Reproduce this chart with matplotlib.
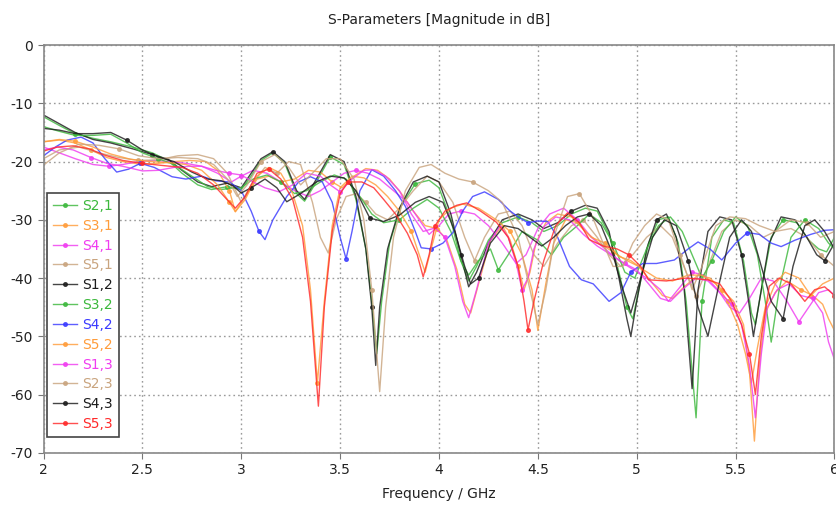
import matplotlib
matplotlib.use("Agg")
import matplotlib.pyplot as plt

plt.rcParams["axes.unicode_minus"] = False
plt.rcParams["font.family"] = ["DejaVu Sans"]

# --------------------
# Data: (frequency GHz, magnitude dB)
# --------------------
s21 = [(2.00,-12.3),(2.08,-13.8),(2.16,-15.2),(2.25,-16),(2.34,-16.6),(2.45,-17.5),(2.55,-18.5),(2.63,-19.8),
       (2.70,-22),(2.78,-24),(2.85,-24.8),(2.93,-24.3),(3.00,-24.8),(3.05,-22.5),(3.10,-19.8),(3.16,-18.5),
       (3.22,-20.3),(3.28,-25.5),(3.32,-26.8),(3.38,-23.5),(3.45,-19.2),(3.52,-20.5),(3.58,-26.5),(3.63,-35),
       (3.66,-44),(3.685,-53),(3.71,-44),(3.75,-34),(3.81,-27.5),(3.88,-23.8),(3.95,-23.2),(4.00,-24.5),
       (4.06,-30),(4.11,-37),(4.15,-40.5),(4.19,-38),(4.25,-33.5),(4.32,-30.5),(4.40,-29.5),(4.47,-30.5),
       (4.53,-32),(4.60,-31),(4.67,-29),(4.74,-28),(4.80,-28.5),(4.86,-32.5),(4.91,-39),(4.95,-45),
       (4.98,-47),(5.01,-42),(5.06,-34),(5.11,-30),(5.16,-29.5),(5.21,-34),(5.25,-44),(5.30,-64),
       (5.33,-44),(5.38,-33),(5.44,-30),(5.49,-30.5),(5.54,-37),(5.58,-46),(5.60,-48),(5.63,-42),
       (5.68,-33),(5.74,-30),(5.81,-30.5),(5.87,-33.5),(5.92,-35),(5.96,-35.5),(6.00,-33)]

s31 = [(2.00,-16.6),(2.08,-16.3),(2.16,-16.8),(2.24,-18),(2.32,-19.3),(2.40,-20),(2.50,-20.5),(2.58,-20.3),
       (2.66,-20),(2.74,-19.8),(2.82,-20),(2.88,-21.5),(2.94,-25),(2.97,-28.6),(3.02,-26),(3.08,-23),
       (3.14,-22.5),(3.20,-23.5),(3.27,-23),(3.34,-21.5),(3.40,-21.8),(3.46,-23.5),(3.51,-24.5),(3.57,-22.5),
       (3.63,-21.2),(3.69,-21.5),(3.75,-23),(3.81,-25.5),(3.87,-28.5),(3.93,-31),(3.99,-31.5),(4.04,-33.5),
       (4.09,-38.5),(4.13,-44.5),(4.16,-46),(4.20,-41),(4.26,-33.5),(4.32,-31),(4.36,-33.5),(4.40,-38),
       (4.43,-42),(4.46,-39),(4.49,-34),(4.54,-30.5),(4.60,-29),(4.67,-29.5),(4.74,-32),(4.81,-34),
       (4.88,-35.5),(4.95,-37),(5.01,-38),(5.07,-40.5),(5.13,-43),(5.18,-43.5),(5.24,-41.5),(5.31,-39.5),
       (5.37,-40),(5.43,-42),(5.49,-44),(5.54,-48),(5.57,-56),(5.595,-68),(5.62,-55),(5.65,-46),
       (5.70,-42.5),(5.76,-40.5),(5.83,-42),(5.89,-43),(5.94,-44.5),(5.97,-47),(6.00,-49)]

s41 = [(2.00,-17.5),(2.08,-18.5),(2.16,-19.5),(2.25,-20.5),(2.33,-20.8),(2.40,-20.5),(2.48,-20),(2.56,-19.8),
       (2.64,-20),(2.72,-20.3),(2.80,-20.8),(2.88,-22),(2.95,-23.5),(3.00,-22.5),(3.06,-21.5),(3.13,-22),
       (3.20,-23.5),(3.27,-25),(3.34,-26),(3.40,-25),(3.46,-23.5),(3.52,-22),(3.58,-21.5),(3.64,-22),
       (3.70,-23),(3.77,-25),(3.84,-27),(3.90,-30),(3.95,-32.5),(4.00,-31),(4.05,-29),(4.11,-28.5),
       (4.18,-29),(4.25,-31),(4.32,-34),(4.39,-37.5),(4.44,-36),(4.50,-31.5),(4.56,-29),(4.63,-28),
       (4.70,-30),(4.77,-33),(4.84,-35),(4.91,-37),(4.98,-38.5),(5.05,-40),(5.12,-42),(5.16,-44),
       (5.22,-41.5),(5.28,-39),(5.34,-39.5),(5.41,-42),(5.47,-45),(5.52,-46),(5.57,-43.5),(5.63,-40),
       (5.69,-40.5),(5.76,-44),(5.82,-47.5),(5.87,-45),(5.92,-42.5),(5.97,-42),(6.00,-43)]

s51 = [(2.00,-19.5),(2.08,-18),(2.18,-17.5),(2.28,-18.5),(2.38,-19.3),(2.48,-19.8),(2.58,-19.7),(2.68,-19),
       (2.78,-18.8),(2.86,-19.5),(2.93,-22),(3.00,-27),(3.05,-24),(3.12,-21),(3.18,-22),(3.24,-20),
       (3.30,-20.5),(3.36,-27),(3.40,-33),(3.44,-35.7),(3.48,-30),(3.53,-26),(3.58,-25.5),(3.63,-27),
       (3.68,-29),(3.74,-30),(3.80,-28),(3.87,-25),(3.94,-22.5),(4.00,-23.5),(4.07,-27),(4.13,-33),
       (4.18,-37),(4.23,-33),(4.30,-29),(4.36,-28.5),(4.42,-31),(4.48,-36),(4.53,-38),(4.60,-34),
       (4.67,-31),(4.73,-30),(4.80,-33),(4.86,-36),(4.92,-38),(4.98,-36),(5.05,-33),(5.12,-31),
       (5.18,-33),(5.25,-39),(5.30,-43),(5.36,-38),(5.43,-32),(5.50,-30),(5.57,-31),(5.64,-33),
       (5.70,-32),(5.78,-31.5),(5.86,-33),(5.93,-36),(6.00,-38)]

s12 = [(2.00,-12),(2.08,-13.5),(2.16,-15),(2.25,-16.2),(2.34,-16.8),(2.45,-17.8),(2.55,-18.8),(2.63,-19.6),
       (2.70,-21.5),(2.78,-23.5),(2.85,-24.3),(2.93,-23.7),(3.00,-24.5),(3.05,-22),(3.10,-19.5),(3.16,-18.3),
       (3.22,-20),(3.28,-25),(3.32,-26.5),(3.38,-23),(3.45,-18.8),(3.52,-20),(3.58,-26),(3.63,-35),
       (3.66,-45),(3.68,-55),(3.70,-45),(3.74,-35),(3.80,-28),(3.87,-23.5),(3.94,-22.5),(4.00,-23.5),
       (4.06,-29),(4.11,-36),(4.15,-41.5),(4.19,-39),(4.25,-34),(4.32,-30),(4.40,-29),(4.47,-30),
       (4.53,-31.5),(4.60,-30.5),(4.67,-28.5),(4.74,-27.5),(4.80,-28),(4.86,-32),(4.91,-40),(4.95,-47),
       (4.97,-50),(5.00,-44),(5.05,-35),(5.10,-30),(5.15,-29),(5.20,-33),(5.24,-42),(5.28,-59),
       (5.31,-42),(5.36,-32),(5.42,-29.5),(5.48,-30),(5.53,-36),(5.57,-45),(5.59,-50),(5.62,-44),
       (5.67,-34),(5.73,-29.5),(5.80,-30),(5.86,-33),(5.91,-36),(5.95,-37),(6.00,-34)]

s32 = [(2.00,-14),(2.08,-14.8),(2.16,-15.5),(2.25,-15.5),(2.34,-15.3),(2.42,-16.8),(2.50,-18.5),(2.58,-19.5),
       (2.66,-20.5),(2.75,-22.5),(2.83,-24.3),(2.90,-24.8),(2.96,-24.5),(3.00,-24.5),(3.06,-23),(3.13,-22.3),
       (3.20,-23.5),(3.27,-25.5),(3.33,-25),(3.40,-23.5),(3.47,-22.3),(3.53,-23),(3.60,-26),(3.66,-29),
       (3.72,-30.5),(3.80,-30),(3.87,-28),(3.94,-26.5),(4.00,-28),(4.06,-32),(4.11,-37),(4.15,-39.5),
       (4.20,-37),(4.26,-35),(4.30,-38.6),(4.35,-36),(4.42,-32),(4.50,-33.5),(4.57,-36),(4.63,-33),
       (4.70,-31),(4.76,-29),(4.82,-30.5),(4.88,-34),(4.94,-39),(4.99,-40),(5.05,-35),(5.11,-31),
       (5.17,-29.5),(5.23,-32),(5.28,-36),(5.33,-40),(5.38,-37),(5.44,-32),(5.50,-29.5),(5.56,-31),
       (5.61,-36),(5.65,-44),(5.68,-51),(5.72,-42),(5.78,-33),(5.85,-30),(5.92,-31.5),(5.97,-34),(6.00,-35)]

s42 = [(2.00,-19),(2.06,-17.5),(2.12,-16.3),(2.19,-15.8),(2.25,-16.8),(2.31,-19.5),(2.37,-21.8),(2.43,-21.3),
       (2.49,-20.3),(2.56,-21),(2.65,-22.6),(2.72,-23),(2.80,-22.5),(2.87,-23.3),(2.94,-23.5),(3.00,-25),
       (3.05,-28.5),(3.09,-32),(3.12,-33.4),(3.16,-30),(3.23,-26),(3.29,-23.5),(3.35,-22.6),(3.41,-23.5),
       (3.46,-27),(3.50,-33),(3.53,-36.7),(3.56,-32),(3.60,-25),(3.66,-21.4),(3.72,-22.5),(3.78,-25),
       (3.83,-27.7),(3.88,-32),(3.91,-34.8),(3.96,-35),(4.02,-34),(4.07,-32.2),(4.12,-28.5),(4.17,-26),
       (4.23,-25.2),(4.30,-26.5),(4.36,-28.5),(4.40,-29.5),(4.45,-30.5),(4.50,-30.2),(4.55,-30.3),(4.60,-33),
       (4.66,-38),(4.72,-40.3),(4.78,-41),(4.86,-44),(4.92,-42.5),(4.97,-39),(5.03,-37.5),(5.10,-37.5),
       (5.19,-36.9),(5.26,-35),(5.31,-33.8),(5.37,-35),(5.43,-36.9),(5.50,-34),(5.56,-32.2),(5.62,-32.5),
       (5.68,-34),(5.73,-34.6),(5.80,-33.5),(5.88,-32.5),(5.95,-31.8),(6.00,-31.7)]

s52 = [(2.00,-16.6),(2.08,-16.2),(2.16,-16.5),(2.25,-17.5),(2.34,-18.7),(2.44,-19.6),(2.54,-20),(2.64,-20.2),
       (2.72,-20.5),(2.80,-21.5),(2.88,-24),(2.94,-27),(2.97,-28.6),(3.02,-26.5),(3.08,-22.5),(3.14,-21),
       (3.20,-22),(3.26,-25.5),(3.31,-31),(3.35,-42),(3.385,-58),(3.42,-44),(3.46,-31),(3.50,-24.5),
       (3.56,-22.5),(3.62,-22.8),(3.68,-24),(3.74,-26),(3.80,-28.5),(3.86,-32),(3.90,-36),(3.93,-39),
       (3.96,-35),(4.00,-30),(4.06,-28),(4.12,-27.3),(4.20,-28),(4.29,-30),(4.36,-32),(4.42,-36),
       (4.47,-42),(4.50,-49),(4.54,-41),(4.58,-34),(4.64,-30),(4.70,-30.5),(4.77,-33),(4.84,-34),
       (4.91,-36.3),(4.97,-37),(5.03,-38.5),(5.10,-40),(5.18,-40.5),(5.26,-39.5),(5.33,-39.5),(5.40,-41),
       (5.46,-44),(5.51,-48),(5.55,-53),(5.58,-58),(5.61,-52),(5.65,-45),(5.70,-41),(5.75,-39),
       (5.82,-40),(5.88,-43),(5.94,-41),(6.00,-40)]

s13 = [(2.00,-18),(2.07,-17.5),(2.15,-18),(2.24,-19.3),(2.32,-20.3),(2.40,-20.8),(2.50,-21.6),(2.58,-21.5),
       (2.66,-21),(2.74,-20.8),(2.80,-20.8),(2.87,-21.5),(2.94,-22),(3.00,-22.3),(3.06,-23.5),(3.12,-24.5),
       (3.19,-25.2),(3.26,-24),(3.33,-22),(3.40,-22.5),(3.45,-24),(3.50,-25.2),(3.56,-23),(3.62,-21.5),
       (3.67,-21.4),(3.73,-22.5),(3.80,-25),(3.86,-29),(3.92,-32),(3.98,-31.4),(4.03,-33),(4.08,-38),
       (4.12,-44),(4.15,-46.8),(4.19,-42),(4.25,-34),(4.31,-31),(4.35,-33),(4.39,-37.4),(4.42,-42),
       (4.45,-40),(4.48,-35),(4.53,-31.2),(4.59,-29.5),(4.66,-30),(4.73,-32.5),(4.80,-34.5),(4.87,-36),
       (4.94,-37.5),(5.00,-38.6),(5.06,-41),(5.12,-43.5),(5.17,-44),(5.23,-42),(5.30,-40),(5.36,-40.5),
       (5.42,-42.5),(5.48,-44.5),(5.53,-48),(5.57,-55),(5.60,-64),(5.63,-53),(5.66,-45),(5.71,-42),
       (5.77,-41),(5.83,-43),(5.89,-43.5),(5.94,-46),(5.97,-51),(6.00,-54)]

s23 = [(2.00,-20.6),(2.08,-18.5),(2.18,-17),(2.28,-17.2),(2.38,-17.8),(2.48,-19),(2.58,-19.5),(2.68,-19.3),
       (2.78,-19.5),(2.86,-20.5),(2.93,-23),(2.98,-26),(3.03,-24),(3.10,-20),(3.17,-18.8),(3.24,-21),
       (3.30,-24),(3.36,-22),(3.43,-19.5),(3.50,-19.5),(3.57,-23),(3.62,-30),(3.66,-42),(3.70,-59.5),
       (3.73,-45),(3.77,-33),(3.83,-25),(3.90,-21),(3.96,-20.5),(4.03,-22),(4.10,-23),(4.17,-23.5),
       (4.25,-25),(4.32,-27),(4.40,-33),(4.46,-42),(4.50,-48),(4.54,-42),(4.59,-32),(4.65,-26),
       (4.71,-25.5),(4.77,-29),(4.83,-34),(4.88,-38),(4.93,-38),(4.98,-34),(5.04,-31),(5.10,-29),
       (5.16,-30),(5.22,-36),(5.28,-42),(5.33,-38),(5.40,-31),(5.47,-29.5),(5.55,-29.8),(5.62,-31),
       (5.70,-32),(5.78,-30),(5.86,-30.5),(5.93,-33),(6.00,-32)]

s43 = [(2.00,-14.3),(2.08,-14.6),(2.16,-15.2),(2.25,-15.2),(2.34,-15),(2.42,-16.3),(2.50,-18),(2.58,-19.2),
       (2.66,-20),(2.75,-21.8),(2.83,-23),(2.90,-23.3),(2.96,-24.2),(3.00,-25.4),(3.05,-24.5),(3.12,-23),
       (3.18,-24.5),(3.23,-26.9),(3.30,-25.5),(3.38,-23.5),(3.45,-22.5),(3.52,-22.8),(3.58,-25),(3.65,-29.7),
       (3.72,-30.3),(3.80,-29.2),(3.88,-27),(3.95,-26),(4.02,-27),(4.08,-32),(4.13,-38),(4.16,-41),
       (4.20,-40),(4.26,-34),(4.33,-31),(4.40,-31.5),(4.46,-33),(4.52,-34.5),(4.58,-33),(4.64,-31),
       (4.70,-29.5),(4.76,-29),(4.82,-31),(4.88,-36),(4.93,-42),(4.97,-46),(5.02,-40),(5.08,-33),
       (5.14,-30),(5.20,-31),(5.26,-37),(5.31,-45),(5.36,-50),(5.41,-42),(5.47,-33),(5.53,-30),
       (5.58,-32),(5.63,-38),(5.68,-44),(5.74,-47),(5.79,-38),(5.85,-31),(5.90,-30),(5.95,-32),(6.00,-35)]

s53 = [(2.00,-18.2),(2.07,-17.5),(2.15,-17.3),(2.23,-17.8),(2.31,-18.9),(2.40,-19.8),(2.50,-20.3),(2.61,-20.7),
       (2.70,-21),(2.78,-22),(2.86,-24),(2.93,-26.6),(2.97,-28),(3.02,-26),(3.08,-22),(3.14,-21.3),
       (3.20,-23),(3.26,-26.5),(3.31,-33),(3.35,-44),(3.39,-62),(3.42,-45),(3.46,-32),(3.50,-25.5),
       (3.54,-23.5),(3.61,-23.5),(3.67,-24.5),(3.72,-26.5),(3.78,-29),(3.84,-32.3),(3.89,-36),(3.92,-39.8),
       (3.95,-36),(3.98,-31),(4.03,-28.5),(4.09,-27.5),(4.14,-27.1),(4.21,-28.5),(4.29,-30.4),(4.35,-33),
       (4.40,-38),(4.43,-44),(4.45,-48.9),(4.48,-44),(4.53,-37),(4.59,-31),(4.65,-28.8),(4.71,-30.5),
       (4.76,-33.4),(4.83,-34.5),(4.90,-35),(4.96,-36),(5.02,-38),(5.06,-40.3),(5.15,-40.5),(5.25,-40),
       (5.36,-40.3),(5.42,-41),(5.48,-44),(5.53,-48),(5.57,-53),(5.60,-60),(5.63,-50),(5.67,-41.4),
       (5.72,-40),(5.78,-41),(5.85,-44),(5.90,-42),(5.95,-41.5),(6.00,-43)]

labels = ["S2,1", "S3,1", "S4,1", "S5,1", "S1,2", "S3,2", "S4,2", "S5,2", "S1,3", "S2,3", "S4,3", "S5,3"]
curves = [s21, s31, s41, s51, s12, s32, s42, s52, s13, s23, s43, s53]

GREEN, ORANGE, MAGENTA, TAN = "#3cb83c", "#ff9c3a", "#f03cf0", "#c9a47e"
BLACK, BLUE, RED = "#1c1c1c", "#3a3aff", "#ff2a2a"
colors = [GREEN, ORANGE, MAGENTA, TAN, BLACK, GREEN, BLUE, ORANGE, MAGENTA, TAN, BLACK, RED]

# --------------------
# Plot
# --------------------
fig = plt.figure(figsize=(8.37, 5.07), dpi=100)
ax = fig.add_axes([0.052, 0.107, 0.945, 0.804])

for i, (lab, pts, col) in enumerate(zip(labels, curves, colors)):
    f = [p[0] for p in pts]
    db = [p[1] for p in pts]
    ax.plot(f, db, color=col, lw=1.0, alpha=0.82, marker="o", ms=2.6,
            markevery=(i % 7 + 2, 9), label=lab)

ax.set_xlim(2, 6)
ax.set_ylim(-70, 0)
ax.set_xticks([2, 2.5, 3, 3.5, 4, 4.5, 5, 5.5, 6])
ax.set_xticklabels(["2", "2.5", "3", "3.5", "4", "4.5", "5", "5.5", "6"])
ax.set_yticks(range(-70, 1, 10))
ax.tick_params(labelsize=10, length=4, color="#777777", labelcolor="#222222")
ax.grid(True, color="#9a9a9a", linestyle=(0, (1.2, 2.2)), linewidth=1.0)
for sp in ax.spines.values():
    sp.set_color("#888888")
    sp.set_linewidth(1.2)

ax.set_title("S-Parameters [Magnitude in dB]", fontsize=10, color="#222222", pad=15)
ax.set_xlabel("Frequency / GHz", fontsize=10, color="#222222", labelpad=7)

leg = ax.legend(loc="lower left", bbox_to_anchor=(0.004, 0.038), fontsize=10,
                labelspacing=0.42, handlelength=1.7, handletextpad=0.4,
                borderpad=0.45, fancybox=False, framealpha=1, borderaxespad=0)
leg.get_frame().set_edgecolor("#444444")
leg.get_frame().set_linewidth(1.2)
for txt, col in zip(leg.get_texts(), colors):
    txt.set_color(col)

fig.savefig("out.png", dpi=100)
